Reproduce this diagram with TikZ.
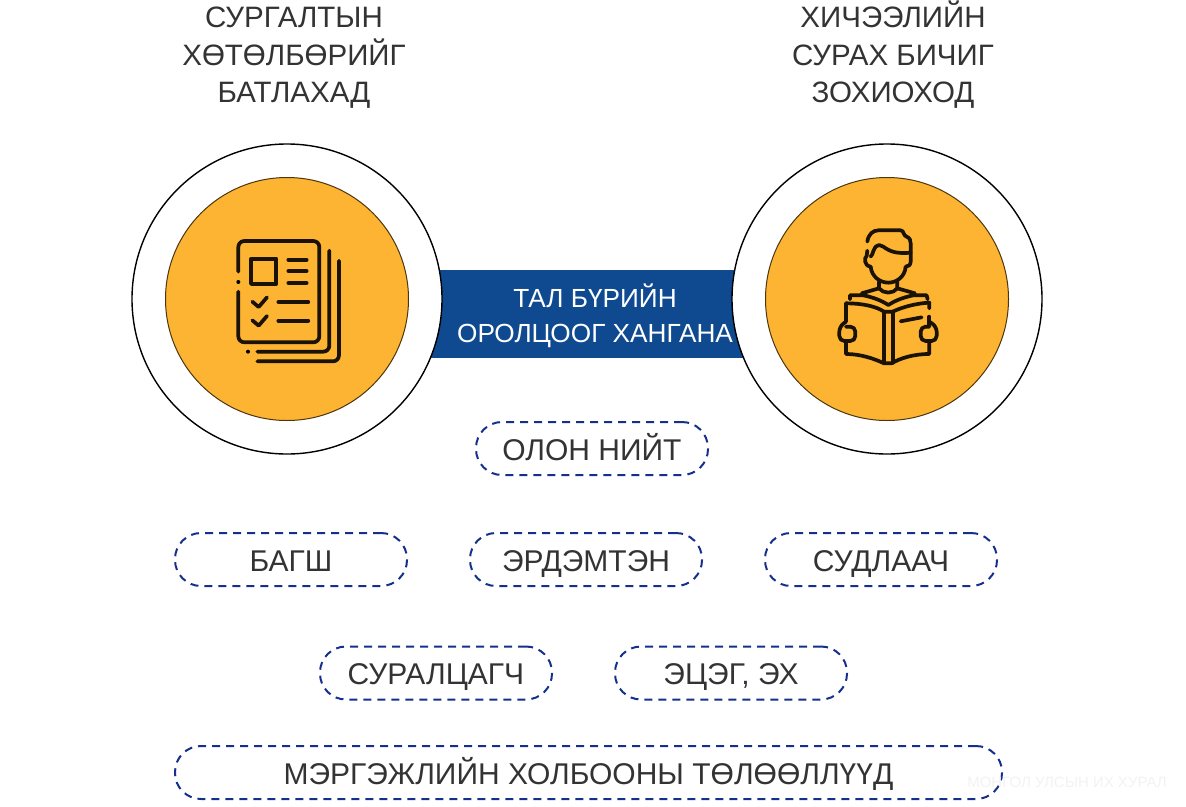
\documentclass[tikz,border=0pt]{standalone}
\usepackage{fontspec}
\setmainfont{Liberation Sans}
\definecolor{orangefill}{HTML}{FDB432}
\definecolor{barblue}{HTML}{0F4A91}
\definecolor{dashblue}{HTML}{14308C}
\definecolor{textgray}{HTML}{333333}
\tikzset{
  bigtext/.style={text=textgray,align=center,inner sep=0pt,font=\fontsize{29.5}{37.5}\selectfont},
  ringcircle/.style={circle,draw=black,line width=1.4pt,fill=white,minimum size=310pt,inner sep=0pt},
  corecircle/.style={circle,draw=black!70!orangefill,line width=1pt,fill=orangefill,minimum size=243pt,inner sep=0pt},
  pill/.style={rounded corners=26pt,draw=dashblue,line width=2pt,dash pattern=on 8pt off 6pt,text=textgray,
    minimum width=232pt,minimum height=53pt,inner sep=0pt,text height=23.5pt,text depth=0pt,font=\fontsize{30}{30}\selectfont},
  iconline/.style={line width=3.7pt,line cap=round,line join=round,draw=black!90!orangefill},
}
\begin{document}
\begin{tikzpicture}[x=1pt,y=-1pt]
    \useasboundingbox (0,0) rectangle (1186,806);
    % middle band first, the rings cover its ends
    \node[fill=barblue,minimum width=330pt,minimum height=88pt,inner sep=0pt] (band) at (587,314) {};
    \node[ringcircle] (leftring) at (287,299) {};
    \node[ringcircle] (rightring) at (887,299) {};
    \node[corecircle] (leftcore) at (287,299) {};
    \node[corecircle] (rightcore) at (887,299) {};
    \node[text=white,align=center,inner sep=0pt,font=\fontsize{26.2}{35}\selectfont] (bandtext) at (595,316) {ТАЛ БҮРИЙН\\ОРОЛЦООГ ХАНГАНА};
    \node[bigtext] (lefttitle) at (294,58) {СУРГАЛТЫН\\ХӨТӨЛБӨРИЙГ\\БАТЛАХАД};
    \node[bigtext] (righttitle) at (893,55) {ХИЧЭЭЛИЙН\\СУРАХ БИЧИГ\\ЗОХИОХОД};
    % pills
    \node[pill] (public) at (592,448.5) {ОЛОН НИЙТ};
    \node[pill] (teacher) at (291,559.5) {БАГШ};
    \node[pill] (scholar) at (586,559.5) {ЭРДЭМТЭН};
    \node[pill] (researcher) at (881,559.5) {СУДЛААЧ};
    \node[pill] (student) at (436,673) {СУРАЛЦАГЧ};
    \node[pill] (parent) at (731,673) {ЭЦЭГ, ЭХ};
    \node[pill,minimum width=827pt] (union) at (588.5,772.5) {МЭРГЭЖЛИЙН ХОЛБООНЫ ТӨЛӨӨЛЛҮҮД};
    \node[text=black!5,inner sep=0pt,font=\fontsize{15}{15}\selectfont] (mark) at (1067,782) {МОНГОЛ УЛСЫН ИХ ХУРАЛ};
    % document icon
    \begin{scope}[shift={(200,210)},x=0.3333pt,y=-0.3333pt,iconline]
        \draw[rounded corners=6pt] (115,185) -- (115,93) -- (358,93) -- (358,397) -- (115,397) -- (115,245);
        \fill (115,216) circle [radius=6];
        \draw (153,146) rectangle (229,222);
        \draw (265,149) -- (320,149);
        \draw (265,183) -- (320,183);
        \draw (265,219) -- (320,219);
        \draw (157,275) -- (176,291) -- (201,262);
        \draw (157,331) -- (176,347) -- (201,318);
        \draw (235,276) -- (325,276);
        \draw (235,332) -- (325,332);
        \draw[rounded corners=6pt] (388,122) -- (388,425) -- (172,425);
        \fill (144,425) circle [radius=6];
        \draw[rounded corners=6pt] (417,152) -- (417,454) -- (172,454);
    \end{scope}
    % reader icon
    \begin{scope}[shift={(810,210)},x=0.3333pt,y=-0.3333pt,iconline]
        \draw (172,95) .. controls (175,72) and (190,61) .. (205,61) -- (272,61) .. controls (282,61) and (280,78) .. (290,80) .. controls (300,84) and (302,92) .. (302,100) -- (302,155) .. controls (302,165) and (295,170) .. (287,170);
        \draw (172,122) -- (170,138) .. controls (162,142) and (162,168) .. (182,170);
        \draw (182,140) .. controls (190,135) and (190,105) .. (207,105) .. controls (225,105) and (230,135) .. (302,128);
        \draw (182,170) .. controls (185,200) and (210,218) .. (235,218) .. controls (260,218) and (285,200) .. (287,170);
        \draw (207,215) -- (207,235) .. controls (220,252) and (250,252) .. (262,235) -- (262,215);
        \draw (155,250) -- (207,235);
        \draw (262,235) -- (315,250);
        \draw (120,268) -- (120,256) -- (160,256) .. controls (190,262) and (215,272) .. (235,285) .. controls (255,272) and (280,262) .. (310,256) -- (350,256) -- (353,268);
        \draw (108,335) -- (108,280) .. controls (160,280) and (200,290) .. (222,305) -- (248,305) .. controls (280,290) and (320,280) .. (358,278) -- (358,295);
        \draw (358,320) -- (358,345);
        \draw (358,393) -- (358,432) .. controls (310,432) and (270,445) .. (245,460) -- (222,460) .. controls (190,445) and (150,432) .. (108,432) -- (108,393);
        \draw (222,305) -- (222,458);
        \draw (248,305) -- (248,458);
        \draw (272,334) -- (335,322);
        \draw[rounded corners=5pt] (108,335) -- (88,350) -- (88,393) -- (136,393) -- (136,350) -- (108,350);
        \draw[rounded corners=5pt] (358,335) -- (380,350) -- (380,393) -- (332,393) -- (332,350) -- (358,350);
    \end{scope}
\end{tikzpicture}
\end{document}
